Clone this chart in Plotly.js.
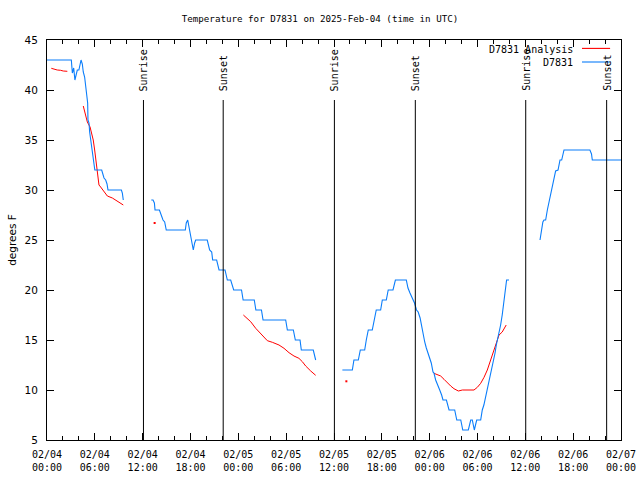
<!DOCTYPE html>
<html>
<head>
<meta charset="utf-8">
<script src="https://cdn.plot.ly/plotly-3.0.1.min.js"></script>
<style>html,body{margin:0;padding:0;background:#fff;}#chart{width:640px;height:480px;}</style>
</head>
<body>
<div id="chart"></div>
<script>
// Hours after 2025-02-04 00:00 UTC; null breaks the line (missing data)
var obsHours = [
  0.0, 3.05, 3.18, 3.35, 3.5, 3.68, 3.8, 4.0, 4.14, 4.27, 4.43, 4.55, 4.72, 4.85, 4.97, 5.1, 5.14, 5.27, 5.35, 5.48, 5.6, 5.73, 5.86, 5.98, 6.0, 6.86, 7.0, 7.15, 7.36, 7.53, 7.65, 9.33, 9.45, 9.57,
  null,
  13.08, 13.3, 13.47, 13.55, 14.1, 14.26, 14.4, 14.55, 14.76, 14.96, 17.35, 17.47, 17.65, 17.8, 17.98, 18.15, 18.28, 18.35, 18.52, 18.65, 20.1, 20.24, 20.4, 20.66, 20.78, 21.28, 21.45, 21.58, 22.33, 22.5, 22.62, 23.04, 23.25, 23.42, 24.4, 24.6, 26.0, 26.1, 26.2, 26.9, 27.0, 27.1, 29.94, 30.15, 30.9, 31.15, 31.74, 31.9, 33.4, 33.58, 33.7,
  null,
  37.05, 38.3, 38.5, 39.05, 39.3, 39.85, 40.05, 40.3, 40.8, 41.06, 41.3, 41.85, 42.06, 42.56, 42.8, 43.4, 43.7, 45.07, 45.28, 45.53, 45.75, 45.9, 46.1, 46.35, 46.56, 46.8, 47.0, 47.17, 47.38, 47.58, 47.8, 48.0, 48.2, 48.42, 48.54, 48.75, 49.05, 49.26, 49.5, 49.67, 50.1, 50.3, 50.43, 51.14, 51.26, 51.4, 51.9, 52.0, 52.15, 52.85, 53.0, 53.15, 53.35, 53.47, 53.6, 53.75, 53.9, 54.4, 54.5, 54.6, 54.8, 54.94, 55.1, 55.23, 55.44, 55.6, 55.78, 55.98, 56.2, 56.36, 56.5, 56.7, 56.9, 57.1, 57.24, 57.4, 57.5, 57.65, 57.95,
  null,
  61.84, 62.05, 62.2, 62.34, 62.55, 62.76, 62.97, 63.18, 63.4, 63.6, 63.8, 64.1, 64.2, 64.35, 64.56, 64.7, 64.85, 68.1, 68.3, 68.4, 72.0
];
var obsTemp = [
  43, 43, 41.7, 42.2, 41, 41.7, 42, 42, 42.7, 43, 42.6, 41.8, 41.3, 40.5, 39.3, 38.7, 37, 36.7, 35.8, 35, 34.3, 33.5, 32.7, 32.2, 32, 32, 31.7, 31.2, 31, 30.6, 30, 30, 29.7, 29,
  null,
  29, 29, 28.7, 28, 28, 27.7, 27.4, 27, 26.8, 26, 26, 26.7, 27, 26.3, 25.7, 24.7, 24.2, 24, 24.7, 25, 25, 24.5, 24, 23.8, 23, 23, 22.5, 22, 22, 21.5, 21, 21, 20.5, 20, 20, 19, 19, 18.5, 18, 18, 17.5, 17, 17, 16, 16, 15, 15, 14, 14, 13.5, 13,
  null,
  12, 12, 13, 13, 14, 14, 15, 16, 16, 17, 18, 18, 19, 19, 20, 20, 21, 21, 20.2, 19.7, 19.3, 19, 18.7, 18, 17.8, 17.2, 16.3, 15.7, 14.8, 14.2, 13.7, 13.2, 12.7, 11.8, 11.7, 11, 10.5, 10, 9.5, 9, 9, 8.5, 8, 8, 7.5, 7, 7, 6.5, 6, 6, 6.5, 7, 7, 6.5, 6, 6.5, 7, 7, 7.5, 8, 8.5, 9, 9.7, 10.3, 11, 11.5, 12, 12.8, 13.7, 14.5, 15, 15.8, 16.5, 17.5, 18.3, 19.3, 20, 21, 21,
  null,
  25, 26, 26.8, 27, 27, 28, 28.8, 29.7, 30.7, 31.3, 31.9, 32, 32.5, 33, 33, 33.6, 34, 34, 33.6, 33, 33
];

var anaHours = [
  0.54, 0.88, 1.29, 1.71, 2.04, 2.55,
  null,
  4.55, 4.85, 5.06, 5.4, 5.6, 5.8, 5.98, 6.19, 6.3, 6.52, 6.73, 7.15, 7.57, 8.2, 8.82, 9.24, 9.57,
  null,
  24.63, 25.1, 25.55, 26.18, 26.8, 27.22, 27.64, 28.27, 29.1, 29.73, 30.36, 30.98, 31.6, 32.03, 32.45, 33.08, 33.7,
  null,
  48.54, 48.96, 49.38, 49.8, 50.2, 50.64, 51.05, 51.6, 52.1, 53.56, 53.98, 54.4, 54.82, 55.23, 55.65, 56.07, 56.5, 56.7, 57.1, 57.6
];
var anaTemp = [
  42.17, 42.07, 42.0, 41.97, 41.9, 41.87,
  null,
  38.4, 37.5, 36.8, 36.3, 35.7, 35, 34, 32.8, 31.7, 30.5, 30.3, 29.8, 29.4, 29.2, 28.9, 28.7, 28.5,
  null,
  17.5, 17.17, 16.83, 16.17, 15.67, 15.23, 14.93, 14.77, 14.5, 14.17, 13.73, 13.4, 13.17, 12.83, 12.4, 11.9, 11.47,
  null,
  11.67, 11.57, 11.4, 11.07, 10.73, 10.4, 10.13, 9.9, 10.0, 10.0, 10.27, 10.67, 11.27, 12, 13, 13.93, 15.1, 15.5, 15.8, 16.5
];
// isolated analysis values (no neighbours to connect)
var anaSingleHours = [13.5, 37.55];
var anaSingleTemp = [26.7, 10.87];

var sunLabels = ["Sunrise", "Sunset", "Sunrise", "Sunset", "Sunrise", "Sunset"];
var sunHours = [12.1, 22.1, 36.05, 46.2, 60.05, 70.2];

var seriesNames = ["D7831 Analysis", "D7831"];
var seriesColors = ["#ff0000", "#0a7dfa"];

var BASE = Date.UTC(2025, 1, 4);
function toDate(h) {
  if (h === null) return null;
  return new Date(BASE + h * 3600000).toISOString().replace('T', ' ').slice(0, 19);
}

var MONO = "DejaVu Sans Mono, monospace";

var traces = [
  {x: anaHours.map(toDate), y: anaTemp, type: 'scatter', mode: 'lines', name: seriesNames[0],
   line: {color: seriesColors[0], width: 1}, connectgaps: false},
  {x: anaSingleHours.map(toDate), y: anaSingleTemp, type: 'scatter', mode: 'markers', name: seriesNames[0],
   marker: {color: seriesColors[0], size: 2, symbol: 'square'}, showlegend: false},
  {x: obsHours.map(toDate), y: obsTemp, type: 'scatter', mode: 'lines', name: seriesNames[1],
   line: {color: seriesColors[1], width: 1.1}, connectgaps: false}
];

var shapes = [];
var annotations = [];
for (var i = 0; i < sunHours.length; i++) {
  shapes.push({type: 'line', xref: 'x', yref: 'y', x0: toDate(sunHours[i]), x1: toDate(sunHours[i]),
    y0: 5, y1: 39, line: {color: 'black', width: 1}});
  annotations.push({xref: 'x', yref: 'y', x: toDate(sunHours[i]), y: 39.7, text: sunLabels[i],
    textangle: -90, showarrow: false, xanchor: 'center', yanchor: 'bottom',
    font: {family: MONO, size: 10, color: 'black'}});
}
// gnuplot-style key: text right-aligned, sample line to the right
var keyY = [0.977, 0.943];
for (var k = 0; k < seriesNames.length; k++) {
  annotations.push({xref: 'paper', yref: 'paper', x: 0.9205, y: keyY[k], text: seriesNames[k],
    showarrow: false, xanchor: 'right', yanchor: 'middle', font: {family: MONO, size: 10, color: 'black'}});
  shapes.push({type: 'line', xref: 'paper', yref: 'paper', x0: 0.932, x1: 0.981, y0: keyY[k] + 0.002, y1: keyY[k] + 0.002,
    line: {color: seriesColors[k], width: 1.1}});
}

var layout = {
  width: 640, height: 480,
  margin: {l: 47, r: 19, t: 40, b: 40, pad: 0},
  paper_bgcolor: '#fff', plot_bgcolor: '#fff',
  showlegend: false,
  title: {text: 'Temperature for D7831 on 2025-Feb-04 (time in UTC)', x: 0.5, xanchor: 'center',
    y: 0.96, yanchor: 'middle', font: {family: MONO, size: 9.2, color: 'black'}},
  xaxis: {
    type: 'date', range: [toDate(0), toDate(72)],
    tick0: toDate(0), dtick: 6 * 3600000, tickformat: '%m/%d<br>%H:%M',
    ticks: 'inside', ticklen: 7, tickcolor: 'black', tickwidth: 1,
    minor: {dtick: 2 * 3600000, ticks: 'inside', ticklen: 4, tickcolor: 'black', showgrid: false},
    showline: true, linecolor: 'black', linewidth: 1, mirror: 'allticks',
    showgrid: false, zeroline: false, ticklabelstandoff: 5,
    tickfont: {family: MONO, size: 10, color: 'black'}
  },
  yaxis: {
    range: [5, 45], dtick: 5, tick0: 5,
    ticks: 'inside', ticklen: 7, tickcolor: 'black', tickwidth: 1,
    showline: true, linecolor: 'black', linewidth: 1, mirror: 'allticks',
    showgrid: false, zeroline: false, ticklabelstandoff: 6,
    tickfont: {family: "DejaVu Sans, sans-serif", size: 10.5, color: 'black'},
    title: {text: 'degrees F', standoff: 5, font: {family: "DejaVu Sans, sans-serif", size: 10.5, color: 'black'}}
  },
  shapes: shapes,
  annotations: annotations
};

Plotly.newPlot('chart', traces, layout, {displayModeBar: false, staticPlot: true});
</script>
</body>
</html>
